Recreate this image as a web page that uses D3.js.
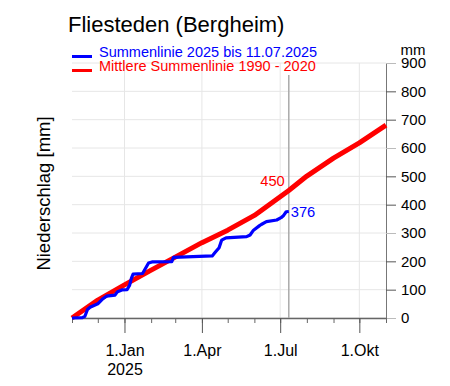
<!DOCTYPE html>
<html>
<head>
<meta charset="utf-8">
<script src="https://cdn.jsdelivr.net/npm/d3@7"></script>
<style>
body { margin:0; background:#fff; }
svg { display:block; font-family:"Liberation Sans", Arial, sans-serif; }
</style>
</head>
<body>
<svg width="450" height="386"></svg>
<script>
// Summenlinie 2025
var blueDates = ["2024-11-01","2024-11-13","2024-11-16","2024-11-19","2024-11-22","2024-12-01","2024-12-07","2024-12-11",
  "2024-12-21","2024-12-24","2024-12-29","2025-01-04","2025-01-07","2025-01-09","2025-01-11","2025-01-22","2025-01-26",
  "2025-01-29","2025-02-02","2025-02-25","2025-02-27","2025-04-13","2025-04-16","2025-04-21","2025-04-24","2025-04-29",
  "2025-05-23","2025-05-27","2025-05-31","2025-06-07","2025-06-09","2025-06-15","2025-06-27","2025-07-02","2025-07-05",
  "2025-07-08","2025-07-11"];
var blueValues = [0,1,6,30,38,50,68,77,81,93,99,100,116,140,155,157,178,194,198,199,214,219,230,248,275,283,
  287,293,310,326,330,340,346,354,362,375,376];

// Mittlere Summenlinie 1990 - 2020
var meanDates = ["2024-11-01","2024-12-01","2025-01-01","2025-02-01","2025-03-01","2025-04-01","2025-05-01",
  "2025-06-01","2025-07-01","2025-07-11","2025-08-01","2025-09-01","2025-10-01","2025-11-01"];
var meanValues = [0,63,117,169,215,266,310,362,428,450,501,564,618,681];

var yTicks = [0,100,200,300,400,500,600,700,800,900];
var majorDates = ["2025-01-01","2025-04-01","2025-07-01","2025-10-01"];
var majorLabels = ["1.Jan","1.Apr","1.Jul","1.Okt"];
var lastDate = "2025-07-11";

var parse = d3.utcParse("%Y-%m-%d");
var svg = d3.select("svg");

//スケール
var x = d3.scaleUtc().domain([parse("2024-11-01"), parse("2025-11-01")]).range([72, 386]);
var y = d3.scaleLinear().domain([0, 900]).range([318, 63]);

//グリッド
svg.append("g").selectAll("line").data(yTicks).enter().append("line")
  .attr("x1", x.range()[0]).attr("x2", x.range()[1])
  .attr("y1", function(d){ return y(d); }).attr("y2", function(d){ return y(d); })
  .attr("stroke", "#e6e6e6").attr("stroke-width", 1);
svg.append("g").selectAll("line").data(majorDates).enter().append("line")
  .attr("x1", function(d){ return x(parse(d)); }).attr("x2", function(d){ return x(parse(d)); })
  .attr("y1", y.range()[0]).attr("y2", y.range()[1])
  .attr("stroke", "#e6e6e6").attr("stroke-width", 1);

//右の軸
var yAxis = svg.append("g").attr("transform", "translate(" + x.range()[1] + ",0)")
  .call(d3.axisRight(y).tickValues(yTicks).tickSize(10).tickPadding(5));
yAxis.select(".domain").attr("stroke", "#777");
yAxis.selectAll(".tick line").attr("stroke", function(d){ return d % 300 === 0 ? "#bbb" : "#555"; });
yAxis.selectAll("text").attr("font-size", 15).attr("fill", "#000").attr("font-family", null);

//下の軸 (月)
var xMinor = svg.append("g").attr("transform", "translate(0," + y.range()[0] + ")")
  .call(d3.axisBottom(x).ticks(d3.utcMonth.every(1)).tickSize(5).tickSizeOuter(0).tickFormat(""));
xMinor.select(".domain").attr("stroke", "#666").attr("stroke-width", 1.5);
xMinor.selectAll(".tick line").attr("stroke", "#666");

var xMajor = svg.append("g").attr("transform", "translate(0," + y.range()[0] + ")")
  .call(d3.axisBottom(x).tickValues(majorDates.map(parse)).tickSize(15).tickPadding(12)
    .tickFormat(function(d, i){ return majorLabels[i]; }));
xMajor.select(".domain").remove();
xMajor.selectAll(".tick line").attr("stroke", "#555");
xMajor.selectAll("text").attr("font-size", 16).attr("fill", "#000").attr("font-family", null);
xMajor.select(".tick text").append("tspan").attr("x", 0).attr("dy", "1.15em").text("2025");

//11.07.2025 の縦線
svg.append("line")
  .attr("x1", x(parse(lastDate))).attr("x2", x(parse(lastDate)))
  .attr("y1", y.range()[1] + 12).attr("y2", y.range()[0])
  .attr("stroke", "#aaa").attr("stroke-width", 1.5);

//線
var line = d3.line()
  .x(function(d){ return x(parse(d[0])); })
  .y(function(d){ return y(d[1]); });

svg.append("path")
  .datum(d3.zip(meanDates, meanValues))
  .attr("d", line).attr("fill", "none").attr("stroke", "#ff0000")
  .attr("stroke-width", 5).attr("stroke-linejoin", "round");

svg.append("path")
  .datum(d3.zip(blueDates, blueValues))
  .attr("d", line).attr("fill", "none").attr("stroke", "#0000ff")
  .attr("stroke-width", 3.2).attr("stroke-linejoin", "round");

//値のラベル
var meanLast = meanValues[meanDates.indexOf(lastDate)];
var blueLast = blueValues[blueValues.length - 1];
svg.append("text")
  .attr("x", x(parse(lastDate)) - 4).attr("y", y(meanLast) - 5)
  .attr("text-anchor", "end").attr("font-size", 14.7).attr("fill", "#ff0000")
  .text(meanLast);
svg.append("text")
  .attr("x", x(parse(lastDate)) + 2).attr("y", y(blueLast) + 2)
  .attr("dominant-baseline", "middle").attr("font-size", 14.7).attr("fill", "#0000ff")
  .text(blueLast);

//タイトルなど
svg.append("text").attr("x", 68).attr("y", 31.5).attr("font-size", 22).text("Fliesteden (Bergheim)");
svg.append("text").attr("x", 413).attr("y", 54.5).attr("text-anchor", "middle").attr("font-size", 15).text("mm");
svg.append("text")
  .attr("transform", "translate(50," + (y(450) + 3) + ") rotate(-90)")
  .attr("text-anchor", "middle").attr("font-size", 18.5).text("Niederschlag [mm]");

//凡例
var legend = [
  {label: "Summenlinie 2025 bis 11.07.2025", color: "#0000ff"},
  {label: "Mittlere Summenlinie 1990 - 2020", color: "#ff0000"}
];
var lg = svg.append("g").selectAll("g").data(legend).enter().append("g")
  .attr("transform", function(d, i){ return "translate(72," + (56.5 + i * 14) + ")"; });
lg.append("line").attr("x1", 0).attr("x2", 20).attr("stroke", function(d){ return d.color; }).attr("stroke-width", 3);
lg.append("text").attr("x", 27).attr("y", 0).attr("font-size", 14.5)
  .attr("fill", function(d){ return d.color; }).text(function(d){ return d.label; });
</script>
</body>
</html>
